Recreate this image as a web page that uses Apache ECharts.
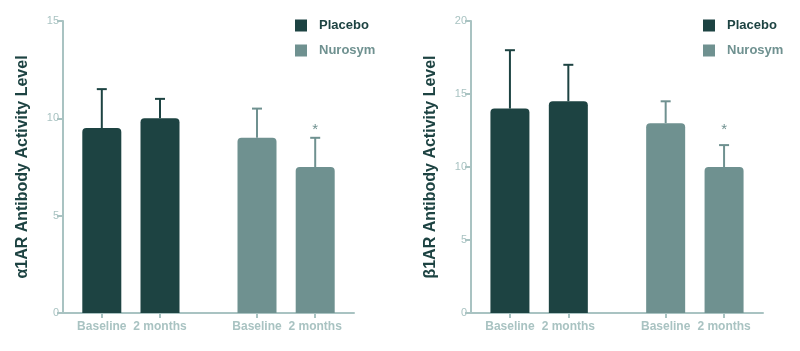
<!DOCTYPE html>
<html lang="en">
<head>
    <meta charset="UTF-8">
    <script src="https://cdn.jsdelivr.net/npm/echarts@6/dist/echarts.min.js"></script>
    <title>Antibody activity</title>
</head>
<body style="margin:0">
<div id="chart" style="width: 800px;height: 351px"></div>
<script type="text/javascript">
    // data
    var times = ['Baseline', '2 months']
    var groups = ['Placebo', 'Nurosym']

    var a1Placebo = [9.5, 10]
    var a1PlaceboErr = [11.5, 11]
    var a1Nurosym = [9, 7.5]
    var a1NurosymErr = [10.5, 9]

    var b1Placebo = [14, 14.5]
    var b1PlaceboErr = [18, 17]
    var b1Nurosym = [13, 10]
    var b1NurosymErr = [14.5, 11.5]

    // * marks the Nurosym 2 months bar
    var nurosymSig = [false, true]

    // layout: where the four bars sit on a 0..15 x scale
    var slots = [2, 5, 10, 13]

    var dark = '#1d4342'
    var light = '#6f9190'
    var axisCol = '#a9c3c2'
    var font = 'Liberation Sans, Arial, sans-serif'

    var myChart = echarts.init(document.getElementById('chart'));

    function xAxisFor(idx) {
        return {
            type: 'value', gridIndex: idx, min: 0, max: 15,
            splitLine: {show: false},
            axisLine: {lineStyle: {color: axisCol, width: 2}},
            axisTick: {customValues: slots, length: 5, lineStyle: {color: axisCol, width: 2}},
            axisLabel: {
                customValues: slots,
                formatter: function (v) { return times[slots.indexOf(v) % 2] },
                color: axisCol, fontWeight: 'bold', fontSize: 12, fontFamily: font, margin: 8
            }
        }
    }

    function yAxisFor(idx, max, name) {
        return {
            type: 'value', gridIndex: idx, min: 0, max: max, interval: 5,
            name: name, nameLocation: 'middle', nameRotate: 90, nameGap: 32,
            nameTextStyle: {color: dark, fontWeight: 'bold', fontSize: 16, fontFamily: font},
            splitLine: {show: false},
            axisLine: {show: true, lineStyle: {color: axisCol, width: 2}},
            axisTick: {show: true, length: 6, lineStyle: {color: axisCol, width: 2}},
            axisLabel: {color: axisCol, fontSize: 11, fontFamily: font, margin: 4}
        }
    }

    function legendFor(left) {
        return {
            left: left, top: 19, orient: 'vertical', padding: 0,
            itemWidth: 12, itemHeight: 12, itemGap: 12, icon: 'rect',
            textStyle: {fontSize: 13, fontWeight: 'bold', fontFamily: font, padding: [0, 0, 0, 7]},
            data: [
                {name: groups[0], textStyle: {color: dark}},
                {name: groups[1], textStyle: {color: light}}
            ]
        }
    }

    function pairs(xs, ys) {
        return ys.map(function (y, i) { return [xs[i], y] })
    }

    function barSeries(name, idx, xs, vals, color) {
        return {
            name: name, type: 'bar', xAxisIndex: idx, yAxisIndex: idx,
            barWidth: 39, barGap: '-100%',
            itemStyle: {color: color, borderRadius: [4, 4, 0, 0]},
            data: pairs(xs, vals)
        }
    }

    function errSeries(name, idx, xs, vals, errs, color, sig, starGap) {
        return {
            name: name, type: 'custom', xAxisIndex: idx, yAxisIndex: idx, z: 1,
            itemStyle: {color: color},
            data: vals.map(function (v, i) { return [xs[i], v, errs[i], sig ? (sig[i] ? 1 : 0) : 0] }),
            renderItem: function (params, api) {
                var b = api.coord([api.value(0), api.value(1)])
                var t = api.coord([api.value(0), api.value(2)])
                var st = {stroke: color, lineWidth: 2}
                var kids = [
                    {type: 'line', shape: {x1: b[0], y1: b[1], x2: t[0], y2: t[1]}, style: st},
                    {type: 'line', shape: {x1: t[0] - 5, y1: t[1], x2: t[0] + 5, y2: t[1]}, style: st}
                ]
                if (api.value(3)) {
                    kids.push({type: 'text', x: t[0], y: t[1] - starGap,
                        style: {text: '*', fill: color, fontSize: 15, fontFamily: font,
                            align: 'center', verticalAlign: 'middle'}})
                }
                return {type: 'group', children: kids}
            }
        }
    }

    var option = {
        backgroundColor: '#fff',
        animation: false,
        color: [dark, light],
        grid: [
            {left: 63, width: 291, top: 21, bottom: 38},
            {left: 471, width: 292, top: 21, bottom: 38}
        ],
        legend: [legendFor(295), legendFor(703)],
        xAxis: [xAxisFor(0), xAxisFor(1)],
        yAxis: [
            yAxisFor(0, 15, 'α1AR Antibody Activity Level'),
            yAxisFor(1, 20, 'β1AR Antibody Activity Level')
        ],
        series: [
            barSeries('Placebo', 0, slots.slice(0, 2), a1Placebo, dark),
            barSeries('Nurosym', 0, slots.slice(2), a1Nurosym, light),
            barSeries('Placebo', 1, slots.slice(0, 2), b1Placebo, dark),
            barSeries('Nurosym', 1, slots.slice(2), b1Nurosym, light),
            errSeries('Placebo', 0, slots.slice(0, 2), a1Placebo, a1PlaceboErr, dark),
            errSeries('Nurosym', 0, slots.slice(2), a1Nurosym, a1NurosymErr, light, nurosymSig, 8),
            errSeries('Placebo', 1, slots.slice(0, 2), b1Placebo, b1PlaceboErr, dark),
            errSeries('Nurosym', 1, slots.slice(2), b1Nurosym, b1NurosymErr, light, nurosymSig, 15)
        ]
    };
    myChart.setOption(option);
</script>
</body>
</html>
